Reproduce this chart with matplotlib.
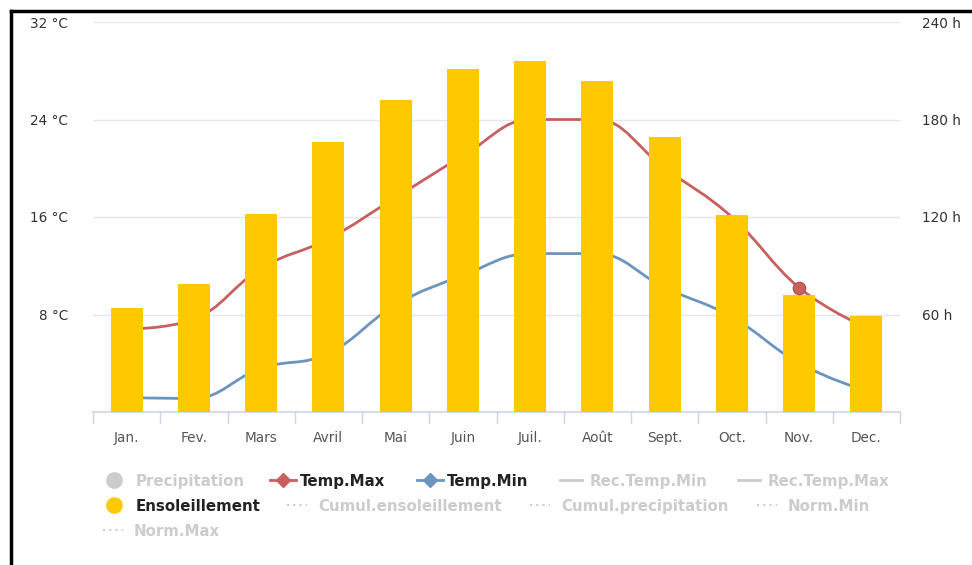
import numpy as np
import matplotlib
matplotlib.use("Agg")
import matplotlib.pyplot as plt
from matplotlib.path import Path
from matplotlib.patches import PathPatch
from matplotlib.lines import Line2D

# Monthly climate values
months = ["Jan.", "Fev.", "Mars", "Avril", "Mai", "Juin", "Juil.", "Août",
          "Sept.", "Oct.", "Nov.", "Dec."]
sunshine_h = [64, 79, 122, 166, 192, 211, 216, 204, 169, 121, 72, 59]
temp_max = [6.8, 7.6, 11.8, 14.2, 17.6, 21.0, 24.0, 24.0, 20.0, 16.0, 10.2, 6.9]
temp_min = [1.2, 1.1, 3.6, 4.8, 8.8, 11.2, 13.0, 13.0, 10.2, 7.8, 4.0, 1.7]

temp_ticks = [8, 16, 24, 32]
hour_ticks = [60, 120, 180, 240]

legend_rows = [
    [("circle", "#cccccc", "Precipitation", False),
     ("diamond", "#c8605f", "Temp.Max", True),
     ("diamond", "#6b94bf", "Temp.Min", True),
     ("solid", "#cccccc", "Rec.Temp.Min", False),
     ("solid", "#cccccc", "Rec.Temp.Max", False)],
    [("circle", "#ffc900", "Ensoleillement", True),
     ("dotted", "#cccccc", "Cumul.ensoleillement", False),
     ("dotted", "#cccccc", "Cumul.precipitation", False),
     ("dotted", "#cccccc", "Norm.Min", False)],
    [("dotted", "#cccccc", "Norm.Max", False)],
]

W, H = 972, 565
fig = plt.figure(figsize=(W / 100, H / 100), dpi=100)
fig.patch.set_facecolor("white")


def fx(px):
    return px / W


def fy(py):
    return 1 - py / H


def spline_path(xs, ys, smoothing=1.5):
    """Smooth curve through the points using cubic Bezier segments."""
    n = len(xs)
    denom = smoothing + 1
    right_cont = [None] * n
    verts = [(xs[0], ys[0])]
    codes = [Path.MOVETO]
    for i in range(1, n):
        px, py = xs[i], ys[i]
        lx, ly = xs[i - 1], ys[i - 1]
        lcx, lcy = px, py
        if i < n - 1:
            nx, ny = xs[i + 1], ys[i + 1]
            lcx = (smoothing * px + lx) / denom
            lcy = (smoothing * py + ly) / denom
            rcx = (smoothing * px + nx) / denom
            rcy = (smoothing * py + ny) / denom
            corr = 0.0
            if rcx != lcx:
                corr = (rcy - lcy) * (rcx - px) / (rcx - lcx) + py - rcy
            lcy += corr
            rcy += corr
            if lcy > ly and lcy > py:
                lcy = max(ly, py)
                rcy = 2 * py - lcy
            elif lcy < ly and lcy < py:
                lcy = min(ly, py)
                rcy = 2 * py - lcy
            if rcy > ny and rcy > py:
                rcy = max(ny, py)
                lcy = 2 * py - rcy
            elif rcy < ny and rcy < py:
                rcy = min(ny, py)
                lcy = 2 * py - rcy
            right_cont[i] = (rcx, rcy)
        prev_rc = right_cont[i - 1] if right_cont[i - 1] is not None else (lx, ly)
        verts += [prev_rc, (lcx, lcy), (px, py)]
        codes += [Path.CURVE4] * 3
    return Path(verts, codes)


# Plot area
left, right, top, bottom = 93, 900, 22, 412
ax = fig.add_axes([fx(left), fy(bottom), fx(right - left), (bottom - top) / H])
ax2 = ax.twinx()

x = np.arange(len(months))
ax.set_xlim(-0.5, len(months) - 0.5)
ax.set_ylim(0, 32)
ax2.set_ylim(0, 240)

for yv in temp_ticks:
    ax.axhline(yv, color="#e6e6e6", lw=1, zorder=0)

ax.add_patch(PathPatch(spline_path(x, temp_max), fill=False,
                       edgecolor="#c8605f", lw=2, zorder=2))
ax.add_patch(PathPatch(spline_path(x, temp_min), fill=False,
                       edgecolor="#6b94bf", lw=2, zorder=2))

ax2.bar(x, sunshine_h, width=0.475, color="#ffc900", zorder=3)
# Highlighted point on Temp.Max
ax2.plot([x[10]], [temp_max[10]], marker="o", ms=9, color="#c8605f",
         mec="#b04848", mew=0.8, transform=ax.transData, zorder=5)

for a in (ax, ax2):
    for s in a.spines.values():
        s.set_visible(False)
    a.set_facecolor("none")

ax.set_yticks(temp_ticks)
ax.set_yticklabels([f"{v} °C" for v in temp_ticks])
ax2.set_yticks(hour_ticks)
ax2.set_yticklabels([f"{v} h" for v in hour_ticks])
ax.tick_params(axis="y", length=0, pad=18, labelsize=9.8, labelcolor="#333333")
ax2.tick_params(axis="y", length=0, pad=16, labelsize=9.8, labelcolor="#333333")
for lab in ax2.get_yticklabels():
    lab.set_horizontalalignment("left")

ax.set_xticks(x)
ax.set_xticklabels(months)
ax.tick_params(axis="x", length=0, pad=14, labelsize=9.8, labelcolor="#555555")

# x axis line and category separators
ax.axhline(0, color="#ccd6eb", lw=1.2, zorder=4, clip_on=False)
for b in np.arange(-0.5, len(months), 1.0):
    ax.plot([b, b], [0, -0.9], color="#ccd6eb", lw=1, clip_on=False, zorder=4)

# Outer frame edges
fig.add_artist(Line2D([fx(11), fx(11)], [0, fy(11)], color="black", lw=2.5))
fig.add_artist(Line2D([fx(11), 1], [fy(11), fy(11)], color="black", lw=2.5))

# Legend
row_y = [480, 505, 530]
row_x = [
    [114, 270, 417, 560, 738],
    [114, 287, 530, 757],
    [103],
]
for r, items in enumerate(legend_rows):
    yy = fy(row_y[r])
    for c, (kind, col, label, active) in enumerate(items):
        x0 = row_x[r][c]
        if kind == "circle":
            fig.add_artist(Line2D([fx(x0)], [yy], marker="o", ms=11,
                                  color=col, mec=col, lw=0))
            tx = x0 + 22
        elif kind == "diamond":
            fig.add_artist(Line2D([fx(x0), fx(x0 + 26)], [yy, yy], color=col, lw=2))
            fig.add_artist(Line2D([fx(x0 + 13)], [yy], marker="D", ms=7,
                                  color=col, lw=0))
            tx = x0 + 30
        elif kind == "solid":
            fig.add_artist(Line2D([fx(x0), fx(x0 + 22)], [yy, yy], color=col, lw=2))
            tx = x0 + 30
        else:
            fig.add_artist(Line2D([fx(x0), fx(x0 + 20)], [yy, yy], color=col,
                                  lw=1.5, ls=(0, (1, 2))))
            tx = x0 + 31
        fig.text(fx(tx), yy, label, fontsize=10.8, fontweight="bold",
                 color="#222222" if active else "#cccccc",
                 ha="left", va="center_baseline")

fig.savefig("out.png", dpi=100)
